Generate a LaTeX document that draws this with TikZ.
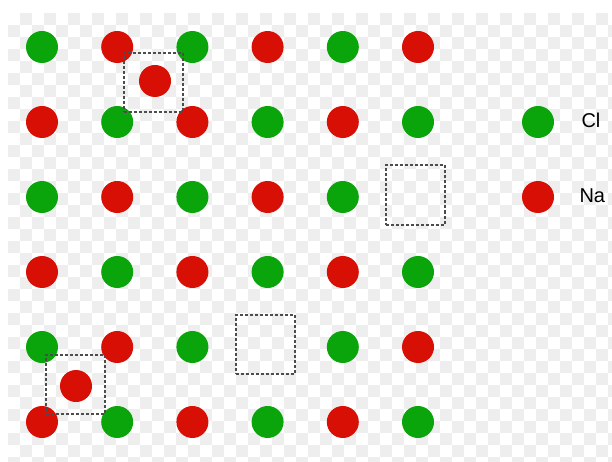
\documentclass[tikz,border=0pt]{standalone}
\usepackage{fontspec}
\setmainfont{Liberation Sans}
\definecolor{clgreen}{RGB}{10,165,10}
\definecolor{nared}{RGB}{215,15,5}
\definecolor{checker}{RGB}{238,238,238}
\tikzset{
  ion/.style={circle,inner sep=0pt,minimum size=32pt},
  cl/.style={ion,fill=clgreen},
  na/.style={ion,fill=nared},
  defectbox/.style={draw=black!70,dash pattern=on 3pt off 2pt,line width=2pt,minimum size=59pt,inner sep=0pt},
  legendtext/.style={anchor=west,font=\fontsize{20}{21}\selectfont}
}
\begin{document}
\begin{tikzpicture}[x=1pt,y=-1pt]
\useasboundingbox (0,0) rectangle (612,462);
% faint checker background
\foreach \i in {0,...,50} {
  \foreach \j in {0,...,37} {
    \pgfmathtruncatemacro{\odd}{mod(\i+\j,2)}
    \ifnum\odd=1
      \fill[checker] (8+12*\i,13+12*\j) rectangle ++(12,12);
    \fi
  }
}
% lattice sites: Cl where row+col is even, Na where odd
\foreach \r in {1,...,6} {
  \foreach \c in {1,...,6} {
    \pgfmathtruncatemacro{\kind}{mod(\r+\c,2)}
    \pgfmathsetmacro{\px}{42+75.2*(\c-1)}
    \pgfmathsetmacro{\py}{47+75*(\r-1)}
    \ifnum\kind=0
      \node[cl] (s-\r-\c) at (\px,\py) {};
    \else
      \ifnum\r\c=36 \else
      \ifnum\r\c=54 \else
        \node[na] (s-\r-\c) at (\px,\py) {};
      \fi\fi
    \fi
  }
}
% vacancies
\node[defectbox] (vac1) at (415.5,195) {};
\node[defectbox] (vac2) at (265,344) {};
% interstitials
\node[defectbox] (int1) at (153,83) {};
\node[na] (na-int1) at (155,81) {};
\node[defectbox] (int2) at (75.5,384.5) {};
\node[na] (na-int2) at (76,386) {};
% legend
\node[legendtext] (lbl-cl) at (578,120) {Cl};
\node[cl] (key-cl) at (538,122) {};
\node[legendtext] (lbl-na) at (576,196) {Na};
\node[na] (key-na) at (538,197) {};
\end{tikzpicture}
\end{document}
